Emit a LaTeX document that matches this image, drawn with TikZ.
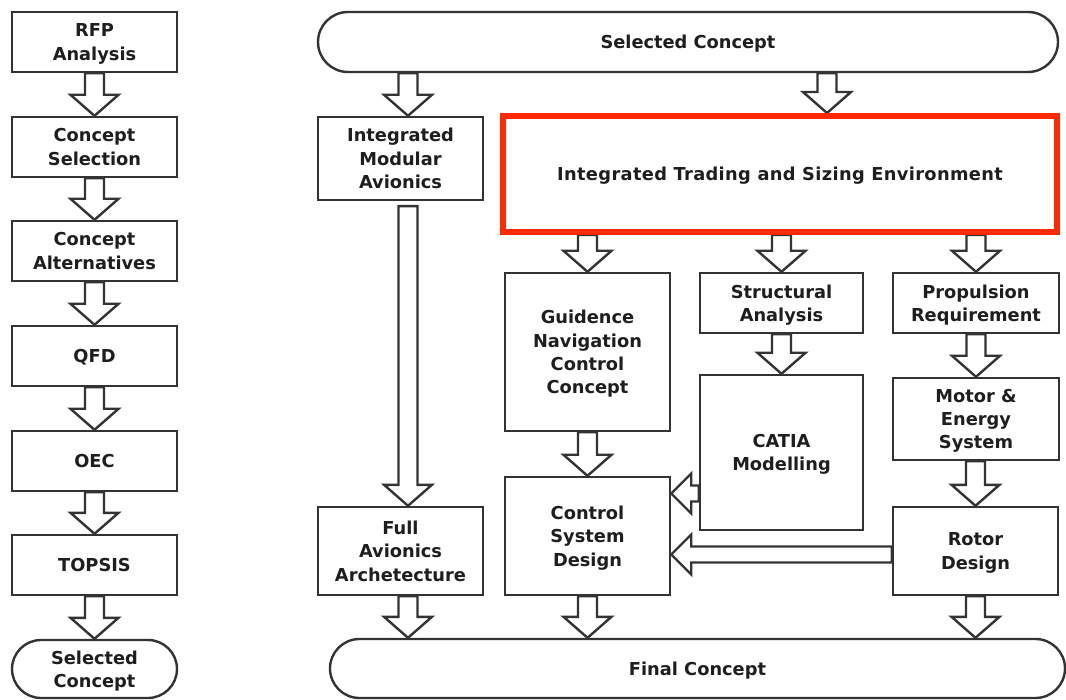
\documentclass[tikz,border=0pt]{standalone}
\usepackage{fontspec}
\setmainfont{DejaVu Sans}
\usetikzlibrary{calc,shapes.misc}
\definecolor{ink}{HTML}{333333}
\definecolor{txt}{HTML}{1E1E1E}
\definecolor{hilite}{HTML}{FF2A00}

% hollow block arrow pointing down: #1 tail point, #2 tip point (same x)
\newcommand{\arrdown}[2]{%
  \draw[blockarrow] ($(#1)+(-9.5,0)$) -- ($(#2)+(-9.5,-21)$) -- ($(#2)+(-24,-21)$)
    -- (#2) -- ($(#2)+(24,-21)$) -- ($(#2)+(9.5,-21)$) -- ($(#1)+(9.5,0)$) -- cycle;}
% hollow block arrow pointing left: #1 tail point, #2 tip point (same y)
\newcommand{\arrleft}[2]{%
  \draw[blockarrow] ($(#1)+(0,-8)$) -- ($(#2)+(20,-8)$) -- ($(#2)+(20,-20)$)
    -- (#2) -- ($(#2)+(20,20)$) -- ($(#2)+(20,8)$) -- ($(#1)+(0,8)$) -- cycle;}

\tikzset{
  labelfont/.style={text=txt, font=\fontsize{17.8}{23.3}\selectfont\bfseries, text depth=0pt},
  blockarrow/.style={draw=ink, line width=2.4pt, fill=white, line join=miter},
  box/.style={draw=ink, line width=2.4pt, fill=white, inner sep=0pt, align=center, labelfont},
  term/.style={box, rounded rectangle},
}

\begin{document}
\begin{tikzpicture}[x=1pt, y=-1pt]
\useasboundingbox (0,0) rectangle (1066,700);

% ---- left column: selection process ----
\node[box, minimum width=165, minimum height=60] (rfp)    at (94.5,42)  {RFP\\Analysis};
\node[box, minimum width=165, minimum height=60] (csel)   at (94.5,147) {Concept\\Selection};
\node[box, minimum width=165, minimum height=60] (calt)   at (94.5,251) {Concept\\Alternatives};
\node[box, minimum width=165, minimum height=60] (qfd)    at (94.5,356) {QFD};
\node[box, minimum width=165, minimum height=60] (oec)    at (94.5,461) {OEC};
\node[box, minimum width=165, minimum height=60] (topsis) at (94.5,565) {TOPSIS};
\node[term, minimum width=165, minimum height=58] (selL)  at (94.5,669) {Selected\\Concept};

\arrdown{csel.north |- rfp.south}{csel.north}
\arrdown{calt.north |- csel.south}{calt.north}
\arrdown{qfd.north |- calt.south}{qfd.north}
\arrdown{oec.north |- qfd.south}{oec.north}
\arrdown{topsis.north |- oec.south}{topsis.north}
\arrdown{selL.north |- topsis.south}{selL.north}

% ---- right part: design process ----
\node[term, minimum width=740, minimum height=60] (selR) at (688,42) {Selected Concept};
\node[box, minimum width=165, minimum height=83] (ima) at (400.5,158.5) {Integrated\\Modular\\Avionics};
\node[box, minimum width=165, minimum height=158] (gnc) at (587.5,352) {Guidence\\Navigation\\Control\\Concept};
\node[box, minimum width=163, minimum height=60] (struct) at (781.5,303) {Structural\\Analysis};
\node[box, minimum width=163, minimum height=155] (catia) at (781.5,452.5) {CATIA\\Modelling};
\node[box, minimum width=166, minimum height=60] (prop) at (976,303) {Propulsion\\Requirement};
\node[box, minimum width=166, minimum height=82] (motor) at (976,419) {Motor \&\\Energy\\System};
\node[box, minimum width=165, minimum height=118] (csd) at (587.5,536) {Control\\System\\Design};
\node[box, minimum width=165, minimum height=88] (rotor) at (975.5,551) {Rotor\\Design};
\node[box, minimum width=165, minimum height=88] (fullav) at (400.5,551) {Full\\Avionics\\Archetecture};
\node[term, minimum width=735, minimum height=59] (final) at (697.5,668.5) {Final Concept};

% arrow lanes and ends that are off the box centres
\coordinate (avx) at (408,0);
\coordinate (ittip) at (827,113);
\coordinate (lane) at (0,235);
\coordinate (imatail) at ($(ima.south)+(0,5)$);

% downward flows
\arrdown{avx |- selR.south}{avx |- ima.north}
\arrdown{ittip |- selR.south}{ittip}
\arrdown{avx |- imatail}{avx |- fullav.north}
\arrdown{gnc.north |- lane}{gnc.north}
\arrdown{struct.north |- lane}{struct.north}
\arrdown{prop.north |- lane}{prop.north}
\arrdown{catia.north |- struct.south}{catia.north}
\arrdown{motor.north |- prop.south}{motor.north}
\arrdown{rotor.north |- motor.south}{rotor.north}
\arrdown{csd.north |- gnc.south}{csd.north}
\arrdown{avx |- fullav.south}{avx |- final.north}
\arrdown{csd.south}{csd.south |- final.north}
\arrdown{rotor.south}{rotor.south |- final.north}

% sideways flows into the control system design
\coordinate (cattail) at ($(catia.west)+(0,41)$);
\coordinate (rottail) at ($(rotor.west)+(0,3.5)$);
\arrleft{cattail}{csd.east |- cattail}
\arrleft{rottail}{csd.east |- rottail}

% highlighted sizing environment
\node[draw=hilite, line width=6pt, fill=white, minimum width=554, minimum height=116,
  inner sep=0pt, labelfont, font=\fontsize{17.8}{23.3}\selectfont\bfseries\addfontfeature{LetterSpace=2}]
  (itse) at (780,174) {Integrated Trading and Sizing Environment};
\end{tikzpicture}
\end{document}
